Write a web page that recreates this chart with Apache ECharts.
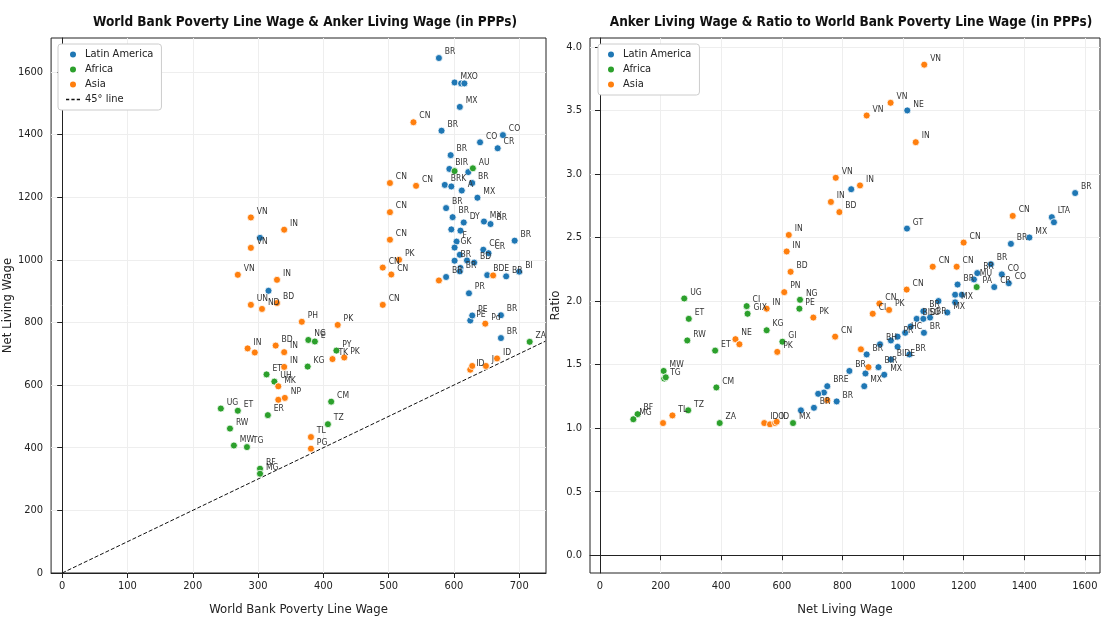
<!DOCTYPE html>
<html><head><meta charset="utf-8">
<script src="https://cdn.jsdelivr.net/npm/echarts@6/dist/echarts.min.js"></script>
<style>html,body{margin:0;background:#fff}#c{width:1102px;height:625px}</style>
</head><body><div id="c"></div>
<script>
const regions = ['Latin America','Africa','Asia'];
const colors = ['#1f77b4','#2ca02c','#ff7f0e'];
// LEFT: [label, WB poverty line wage, net living wage]
const latamL = [
['BR',577,1644],['MXO',601,1566],['',611,1563],['',616,1563],['MX',609,1488],['BR',581,1412],
['CO',640,1375],['CO',675,1398],['CR',667,1356],['BR',595,1334],['BIR',593,1290],['',622,1280],
['BR',628,1245],['BRK',586,1239],['',596,1234],['A',612,1221],['MX',636,1198],['BR',588,1165],
['BR',598,1136],['DY',615,1119],['MX',646,1122],['BR',656,1114],['',596,1097],['',610,1093],
['F',604,1058],['GK',601,1039],['BR',693,1061],['CC',645,1032],['CR',653,1021],['',609,1016],
['BR',601,997],['',620,998],['BD',631,991],['',610,974],['BR',609,963],['BR',680,947],['BI',700,962],
['BDE',651,951],['BR',588,945],['PR',623,893],['PE',625,806],['PE',628,822],['BR',672,823],['BR',672,750],
['',303,1070],['',316,901]
];
const africaL = [
['AU',629,1292],['',601,1283],['NG',377,744],['E',387,739],['PY',420,710],['KG',376,659],['ET',313,634],
['UH',325,611],['CM',412,547],['UG',243,525],['ET',269,518],['ER',315,504],['TZ',407,475],['RW',257,461],
['MW',263,407],['TG',283,402],['BF',303,333],['MG',303,317],['ZA',716,738]
];
const asiaL = [
['VN',289,1135],['IN',340,1096],['VN',289,1038],['VN',269,952],['IN',329,936],['UN',289,856],['ND',306,843],
['BD',329,862],['PH',367,802],['PK',422,792],['IN',284,717],['',295,704],['BD',327,726],['IN',340,705],
['IN',340,658],['MK',331,596],['NP',341,559],['',331,553],['TK',414,683],['PK',432,688],['TL',381,434],
['PG',381,397],['CN',538,1439],['CN',502,1245],['CN',542,1236],['CN',502,1152],['CN',502,1064],
['PK',516,1000],['CN',491,975],['CN',504,953],['',577,934],['CN',491,856],['',660,950],['Pd',648,796],
['ID',666,685],['J',649,661],['ID',625,649],['',628,661]
];
// RIGHT: [label, net living wage, ratio]
const latamR = [
['NE',1014,3.50],['',829,2.88],['GT',1013,2.57],['BR',1568,2.85],['LTA',1491,2.66],['',1498,2.62],
['MX',1417,2.50],['BR',1356,2.45],['BR',1290,2.29],['CO',1326,2.21],['CO',1349,2.14],['CR',1301,2.11],
['BR',1245,2.22],['MU',1234,2.17],['BR',1180,2.13],['',1172,2.05],['',1194,2.05],['MX',1172,1.99],
['',1117,2.00],['MX',1146,1.91],['BR',1067,1.92],['BR',1089,1.87],['BID',1045,1.86],['SG',1067,1.86],
['BR',1069,1.75],['',1025,1.80],['PR',982,1.72],['HC',1007,1.75],['',960,1.69],['BH',924,1.66],
['',982,1.64],['BR',1021,1.58],['BR',880,1.58],['BIDE',960,1.54],['BR',823,1.45],['',876,1.43],
['MX',938,1.42],['BIR',919,1.48],['MX',872,1.33],['BRE',750,1.33],['BR',781,1.21],['',739,1.28],
['',663,1.14],['BR',706,1.16],['',720,1.27]
];
const africaR = [
['NG',660,2.01],['PE',658,1.94],['UG',278,2.02],['ET',293,1.86],['CI',484,1.96],['GIX',487,1.90],
['KG',550,1.77],['GI',602,1.68],['RW',288,1.69],['ET',380,1.61],['MW',210,1.45],['TG',212,1.39],
['',217,1.40],['CM',384,1.32],['BF',124,1.11],['MG',110,1.07],['TZ',291,1.14],['ZA',395,1.04],
['MX',637,1.04],['PA',1243,2.11]
];
const asiaR = [
['VN',1070,3.86],['VN',959,3.56],['VN',880,3.46],['IN',1042,3.25],['VN',778,2.97],['IN',858,2.91],
['IN',762,2.78],['BD',790,2.70],['IN',623,2.52],['IN',616,2.39],['BD',629,2.23],['PN',608,2.07],
['IN',550,1.94],['PK',704,1.87],['PK',585,1.60],['NE',447,1.70],['',460,1.66],['TL',239,1.10],
['',208,1.04],['IDO',542,1.04],['',561,1.03],['ID',578,1.04],['',583,1.05],['CN',1200,2.46],
['CN',1362,2.67],['CN',1098,2.27],['CN',1177,2.27],['CN',1012,2.09],['CN',922,1.98],['PK',954,1.93],
['CI',900,1.90],['CN',776,1.72],['',861,1.62],['',886,1.48],['',750,1.22]
];
const groupsL = [latamL, africaL, asiaL];
const groupsR = [latamR, africaR, asiaR];
const xTicksL = [0,100,200,300,400,500,600,700];
const yTicksL = [0,200,400,600,800,1000,1200,1400,1600];
const xTicksR = [0,200,400,600,800,1000,1200,1400,1600];
const yTicksR = [0,0.5,1,1.5,2,2.5,3,3.5,4];
const font = '"Liberation Sans Narrow","DejaVu Sans Condensed","Liberation Sans",sans-serif';
function axis(name, min, max, ticks, gi, dec){
  return {type:'value', gridIndex:gi, min, max, name, nameLocation:'middle', nameGap:dec?25:30,
    nameTextStyle:{fontSize:13,color:'#222',fontFamily:font},
    axisLine:{show:true,lineStyle:{color:'#222'}}, axisTick:{show:true,customValues:ticks,lineStyle:{color:'#222'}},
    axisLabel:{customValues:ticks,color:'#222',fontSize:11,fontFamily:font,formatter:v=>dec?v.toFixed(1):v},
    splitLine:{show:true,lineStyle:{color:'#eee'}}};
}
const lbl = {show:true,position:'right',distance:2,offset:[0,-6],fontSize:8.5,color:'#333',fontFamily:font,formatter:p=>p.data[2]};
const series = [];
[groupsL, groupsR].forEach((gs,k)=>gs.forEach((g,i)=>{
  series.push({name:regions[i],type:'scatter',xAxisIndex:k,yAxisIndex:k,symbolSize:7,
    itemStyle:{color:colors[i],borderColor:'#fff',borderWidth:0.8,opacity:1},label:lbl,
    data:g.map(d=>[d[1],d[2],d[0]])});
}));
series.push({name:'45° line',type:'line',xAxisIndex:0,yAxisIndex:0,symbol:'none',color:'#111',
  lineStyle:{color:'#111',type:'dashed',width:1},data:[[0,0],[740,740]],z:1});
const dash = 'path://M0,4h3v1.2h-3zM5,4h3v1.2h-3zM10,4h3v1.2h-3z';
const legendBase = {orient:'vertical',itemGap:4,itemWidth:14,itemHeight:8,padding:[5,8],borderColor:'#ccc',borderWidth:1,borderRadius:3,
    backgroundColor:'#fff',textStyle:{fontSize:11,fontFamily:font,color:'#222'}};
const chart = echarts.init(document.getElementById('c'));
chart.setOption({
  animation:false,
  title:[{text:'World Bank Poverty Line Wage & Anker Living Wage (in PPPs)',left:300,top:10,textAlign:'center',
    textStyle:{fontSize:13.5,fontWeight:'bold',color:'#111',fontFamily:font}},
    {text:'Anker Living Wage & Ratio to World Bank Poverty Line Wage (in PPPs)',left:846,top:10,textAlign:'center',
    textStyle:{fontSize:13.5,fontWeight:'bold',color:'#111',fontFamily:font}}],
  grid:[{left:50,top:38,width:496,height:535,show:true,borderColor:'#222'},
        {left:590,top:38,width:510,height:535,show:true,borderColor:'#222'}],
  legend:[Object.assign({left:58,top:44,
    data:[{name:'Latin America',icon:'circle'},{name:'Africa',icon:'circle'},{name:'Asia',icon:'circle'},{name:'45° line',icon:dash,itemStyle:{color:'#111'}}]},legendBase),
    Object.assign({left:598,top:44,
    data:[{name:'Latin America',icon:'circle'},{name:'Africa',icon:'circle'},{name:'Asia',icon:'circle'}]},legendBase)],
  xAxis:[axis('World Bank Poverty Line Wage',-17,741,xTicksL,0),axis('Net Living Wage',-33,1650,xTicksR,1)],
  yAxis:[axis('Net Living Wage',0,1708,yTicksL,0),axis('Ratio',-0.14,4.07,yTicksR,1,true)],
  series
});
</script></body></html>
